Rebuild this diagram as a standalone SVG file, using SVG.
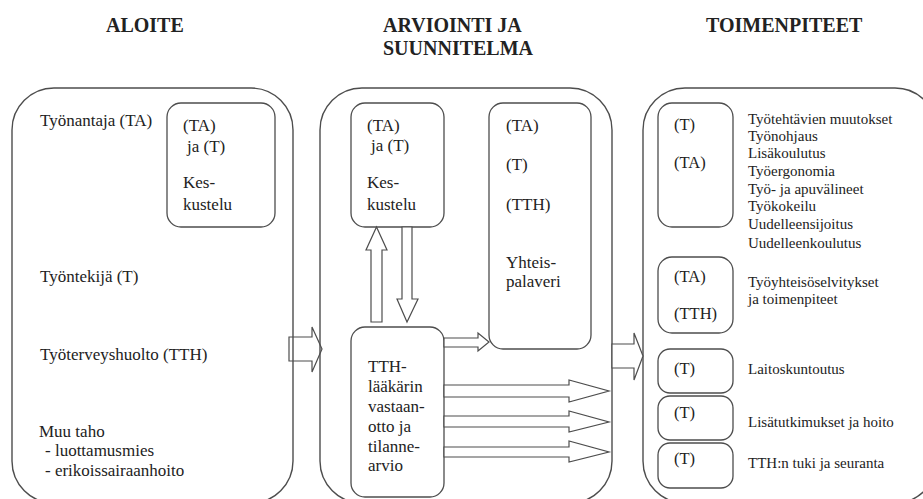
<svg xmlns="http://www.w3.org/2000/svg" width="923" height="499" viewBox="0 0 923 499">
<style>
.pan{fill:none;stroke:#4d4d4d;stroke-width:1.4}
.box{fill:#fff;stroke:#4d4d4d;stroke-width:1.3}
.arr{fill:#fff;stroke:#4d4d4d;stroke-width:1.2;stroke-linejoin:miter}
.arrn{fill:none;stroke:#4d4d4d;stroke-width:1.2}
text{fill:#222}
.t{font-size:20px;font-weight:bold}
.l{font-size:17px}
.s{font-size:15px}
.b{font-size:16.5px}
</style>
<rect width="923" height="499" fill="#fff"/>
<g font-family="Liberation Serif, Times New Roman, serif">
<g id="titles">
<text class="t" x="106" y="32">ALOITE</text>
<text class="t" x="383" y="32">ARVIOINTI JA</text>
<text class="t" x="383" y="55">SUUNNITELMA</text>
<text class="t" x="706" y="32">TOIMENPITEET</text>
</g>
<g id="panel-aloite">
<rect class="pan" x="12" y="88" width="281" height="415" rx="42" ry="42"/>
<text class="l" x="40" y="126">Työnantaja (TA)</text>
<text class="l" x="40" y="282">Työntekijä (T)</text>
<text class="l" x="40" y="360">Työterveyshuolto (TTH)</text>
<text class="l" x="39" y="437">Muu taho</text>
<text class="l" x="45" y="456"> - luottamusmies</text>
<text class="l" x="45" y="476"> - erikoissairaanhoito</text>
</g>
<g id="aloite-keskustelu">
<rect class="box" x="167" y="103" width="108" height="124" rx="14"/>
<text class="l" x="183" y="131">(TA)</text>
<text class="l" x="187" y="152">ja (T)</text>
<text class="l" x="183" y="188">Kes-</text>
<text class="l" x="183" y="210">kustelu</text>
</g>
<g id="panel-arviointi">
<rect class="pan" x="320" y="88" width="292" height="415" rx="42" ry="42"/>
</g>
<g id="arviointi-keskustelu">
<rect class="box" x="351" y="103" width="93" height="124" rx="14"/>
<text class="l" x="367" y="131">(TA)</text>
<text class="l" x="371" y="151">ja (T)</text>
<text class="l" x="367" y="188">Kes-</text>
<text class="l" x="367" y="210">kustelu</text>
</g>
<g id="yhteispalaveri">
<rect class="box" x="489" y="103" width="102" height="246" rx="14"/>
<text class="l" x="506" y="131">(TA)</text>
<text class="l" x="506" y="170">(T)</text>
<text class="l" x="506" y="210">(TTH)</text>
<text class="l" x="506" y="268">Yhteis-</text>
<text class="l" x="506" y="287">palaveri</text>
</g>
<g id="tth-laakari">
<rect class="box" x="351" y="327" width="93" height="170" rx="14"/>
<text class="l" x="368" y="372">TTH-</text>
<text class="l" x="368" y="392">lääkärin</text>
<text class="l" x="368" y="412">vastaan-</text>
<text class="l" x="368" y="432">otto ja</text>
<text class="l" x="368" y="452">tilanne-</text>
<text class="l" x="368" y="471">arvio</text>
</g>
<g id="panel-toimenpiteet">
<rect class="pan" x="643" y="88" width="294" height="415" rx="42" ry="42"/>
</g>
<g id="toim-1">
<rect class="box" x="658" y="103" width="75" height="124" rx="14"/>
<text class="b" x="674" y="130">(T)</text>
<text class="b" x="674" y="168">(TA)</text>
<text class="s" x="748" y="124">Työtehtävien muutokset</text>
<text class="s" x="748" y="141">Työnohjaus</text>
<text class="s" x="748" y="158">Lisäkoulutus</text>
<text class="s" x="748" y="176">Työergonomia</text>
<text class="s" x="748" y="194">Työ- ja apuvälineet</text>
<text class="s" x="748" y="211">Työkokeilu</text>
<text class="s" x="748" y="229">Uudelleensijoitus</text>
<text class="s" x="748" y="248">Uudelleenkoulutus</text>
</g>
<g id="toim-2">
<rect class="box" x="658" y="257" width="75" height="76" rx="14"/>
<text class="b" x="674" y="282">(TA)</text>
<text class="b" x="674" y="319">(TTH)</text>
<text class="s" x="748" y="287">Työyhteisöselvitykset</text>
<text class="s" x="748" y="304">ja toimenpiteet</text>
</g>
<g id="toim-3">
<rect class="box" x="658" y="349" width="75" height="44" rx="12"/>
<text class="b" x="674" y="374">(T)</text>
<text class="s" x="748" y="374">Laitoskuntoutus</text>
</g>
<g id="toim-4">
<rect class="box" x="658" y="396" width="75" height="44" rx="12"/>
<text class="b" x="674" y="418">(T)</text>
<text class="s" x="748" y="427">Lisätutkimukset ja hoito</text>
</g>
<g id="toim-5">
<rect class="box" x="658" y="443" width="75" height="45" rx="12"/>
<text class="b" x="674" y="464">(T)</text>
<text class="s" x="748" y="468">TTH:n tuki ja seuranta</text>
</g>
</g>
<g id="connectors">
<polygon class="arrn" points="289,337 312,337 312,327 322,349 312,372 312,361 289,361"/>
<polygon class="arr" points="612,344 634,344 634,333 643,356 634,380 634,368 612,368"/>
<polygon class="arr" points="371,322 382,322 382,250 387,250 376.5,227 366,250 371,250"/>
<polygon class="arr" points="402,227 412,227 412,299 418,299 407,322 397,299 402,299"/>
<polygon class="arr" points="444,338 478,338 478,333 489,342 478,351 478,347 444,347"/>
<polygon class="arr" points="444,385 569,385 569,380 609,391 569,402 569,397 444,397"/>
<polygon class="arr" points="444,416 569,416 569,411 609,422 569,432 569,427 444,427"/>
<polygon class="arr" points="444,447 569,447 569,441 609,452 569,462 569,457 444,457"/>
</g>
</svg>
